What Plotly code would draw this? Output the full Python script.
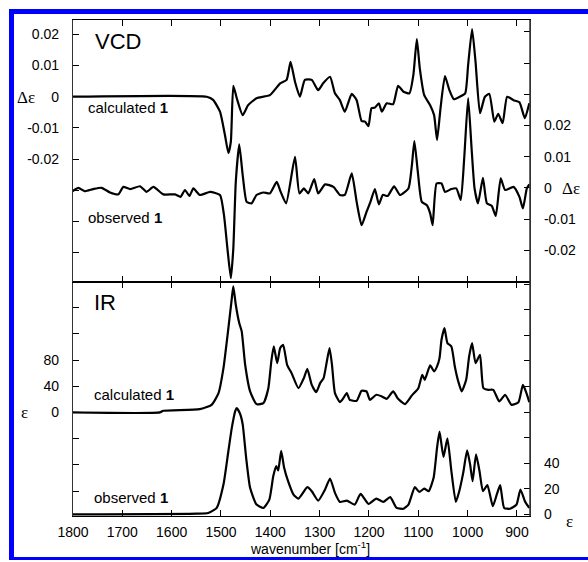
import plotly.graph_objects as go

# ---------------- data ----------------
vcd_calc_wn = [1803, 1529, 1516, 1502, 1492, 1485, 1480, 1475, 1468, 1456, 1445, 1428, 1401, 1380, 1367,
               1359, 1350, 1340, 1330, 1316, 1303, 1293, 1279, 1269, 1259, 1249, 1235, 1225, 1215, 1208,
               1201, 1195, 1188, 1180, 1174, 1164, 1151, 1141, 1130, 1118, 1110, 1103, 1097, 1088, 1076,
               1068, 1062, 1055, 1046, 1037, 1028, 1016, 1005, 999, 991, 984, 975, 965, 956, 946, 938,
               929, 920, 907, 895, 884, 875]
vcd_calc = [0, 0, -0.001, -0.0048, -0.0123, -0.0181, -0.0144, 0.0035, -0.0005, -0.0059, -0.0027, -0.0005,
            0.0005, 0.0043, 0.0054, 0.0112, 0.0048, 0.0, 0.0054, 0.0054, 0.0021, 0.0043, 0.0064, 0.0011,
            -0.0011, -0.0048, 0.0009, -0.0011, -0.0078, -0.008, -0.0094, -0.0037, -0.0035, -0.0021,
            -0.0048, -0.0021, -0.0024, 0.0035, 0.0016, 0.0011, 0.007, 0.0185, 0.0091, 0.0005, -0.0027,
            -0.0059, -0.0139, -0.0037, 0.0066, 0.0021, -0.0008, 0.0, 0.0011, 0.0102, 0.0217, 0.0112,
            -0.0053, 0.0, 0.0009, -0.008, -0.0055, -0.0085, 0.0, -0.0011, -0.0018, -0.0069, -0.0021]

vcd_obs_wn = [1803, 1789, 1776, 1759, 1742, 1725, 1708, 1698, 1684, 1664, 1651, 1637, 1617, 1593, 1582,
              1573, 1564, 1556, 1543, 1522, 1502, 1494, 1487, 1480, 1475, 1470, 1463, 1456, 1448, 1438,
              1428, 1414, 1401, 1387, 1379, 1368, 1350, 1341, 1332, 1323, 1311, 1303, 1289, 1272, 1259,
              1249, 1235, 1225, 1215, 1205, 1197, 1188, 1180, 1172, 1162, 1149, 1137, 1120, 1113, 1108,
              1101, 1093, 1083, 1076, 1071, 1063, 1053, 1046, 1033, 1023, 1014, 1007, 999, 992, 986, 979,
              969, 961, 951, 943, 933, 924, 907, 895, 888, 880, 875]
vcd_obs = [-0.0013, 0.0, -0.0011, -0.0004, 0.0, -0.0015, -0.0021, 0.0003, -0.0004, 0.0005, -0.0013,
           0.0003, -0.0021, -0.0021, -0.0029, -0.0007, -0.0026, -0.0002, -0.0023, -0.0013, -0.0023,
           -0.0087, -0.0194, -0.029, -0.0194, 0.0019, 0.0139, 0.0041, -0.0045, -0.005, -0.0023, -0.0015,
           -0.0018, 0.0019, -0.0013, -0.005, 0.0099, -0.0018, -0.0002, -0.0018, 0.0028, -0.0018, 0.0011,
           0.0003, -0.0023, -0.0023, 0.0046, -0.0045, -0.012, -0.0077, -0.0045, -0.0004, -0.0053,
           -0.0023, -0.0026, 0.0005, -0.0023, -0.0002, 0.0073, 0.015, 0.0051, -0.0045, -0.0055, -0.0082,
           -0.012, 0.0014, 0.0014, -0.0013, -0.0004, -0.0002, -0.0039, 0.0094, 0.0288, 0.0126, -0.0002,
           -0.005, 0.0032, -0.005, -0.0058, -0.009, 0.003, -0.0007, 0.0003, -0.0029, -0.0066, -0.0002,
           0.0011]

ir_calc_wn = [1803, 1624, 1617, 1543, 1519, 1505, 1495, 1485, 1478, 1475, 1470, 1463, 1458, 1451, 1441,
              1428, 1414, 1404, 1398, 1393, 1386, 1380, 1374, 1366, 1357, 1343, 1332, 1325, 1316, 1307,
              1299, 1292, 1286, 1280, 1275, 1269, 1259, 1252, 1245, 1239, 1225, 1215, 1205, 1198, 1185,
              1174, 1164, 1151, 1141, 1127, 1113, 1100, 1092, 1087, 1076, 1068, 1062, 1057, 1053, 1047,
              1041, 1033, 1026, 1019, 1012, 1003, 997, 991, 984, 975, 968, 958, 948, 936, 924, 911, 897,
              888, 882, 875]
ir_calc = [0, 0, 2.5, 5, 11.6, 29.5, 67.6, 128.7, 174.5, 192.4, 164.3, 136.3, 123.7, 72.7, 32, 12.7, 14.2,
           37, 77.9, 100.7, 75.3, 98.2, 103.2, 72.7, 60, 37, 52.4, 66.6, 42, 31, 44.7, 52.4, 75.3, 98.2,
           72.7, 29.5, 15.7, 21.8, 29.5, 19.2, 17.7, 33, 32, 19.2, 27, 24.4, 20.8, 32, 20.8, 12.7, 26, 37,
           57.4, 49.8, 71.8, 62.6, 70.2, 82.9, 110.8, 128.7, 105.8, 100.7, 70.2, 47.3, 32, 49.8, 85.5,
           105.8, 75.3, 87.9, 37, 34.5, 34.5, 16.8, 27, 11.6, 15.7, 42, 32, 15.7]

ir_obs_wn = [1803, 1549, 1526, 1509, 1495, 1485, 1478, 1471, 1468, 1461, 1456, 1449, 1441, 1428, 1414,
             1402, 1394, 1388, 1384, 1378, 1372, 1364, 1353, 1343, 1325, 1316, 1303, 1289, 1279, 1269,
             1259, 1245, 1229, 1217, 1201, 1185, 1171, 1157, 1144, 1130, 1120, 1107, 1098, 1088, 1079,
             1069, 1062, 1057, 1049, 1041, 1033, 1024, 1017, 1009, 1001, 995, 990, 983, 976, 969, 960,
             949, 941, 934, 926, 914, 901, 893, 884, 875]
ir_obs = [0, 0.6, 1.2, 5, 23.4, 49.6, 67.8, 80.9, 83, 78.3, 70.4, 44.3, 20.8, 7.7, 5.1, 11.6, 30, 37.8,
          34.4, 49.6, 36.5, 26, 15.5, 12.4, 21.3, 18.2, 10.8, 19.5, 28.1, 16.9, 9.8, 10.8, 7.7, 16.1, 8.2,
          12.4, 9.8, 13.5, 5.1, 4.5, 7.7, 21.3, 17.6, 20.2, 18.2, 28.6, 52.2, 64.7, 44.9, 59.5, 33.9, 9.8,
          18.2, 32.5, 50, 39.1, 26, 46.9, 33.9, 18.2, 22.9, 6.4, 15.5, 22.9, 5.1, 4.5, 7.7, 19.5, 10.4, 5.1]

x_ticks = [1800, 1700, 1600, 1500, 1400, 1300, 1200, 1100, 1000, 900]
vcd_left_ticks = [-0.05, -0.04, -0.03, -0.02, -0.01, 0, 0.01, 0.02]
vcd_left_text = ["", "", "", "-0.02", "-0.01", "0", "0.01", "0.02"]
vcd_right_ticks = [-0.02, -0.01, 0, 0.01, 0.02, 0.03, 0.04, 0.05]
vcd_right_text = ["-0.02", "-0.01", "0", "0.01", "0.02", "", "", ""]
ir_left_ticks = [-120, -80, -40, 0, 40, 80, 120, 160]
ir_left_text = ["", "", "", "0", "40", "80", "", ""]
ir_right_ticks = [0, 20, 40, 60, 80, 100, 120, 140, 160, 180]
ir_right_text = ["0", "20", "40", "", "", "", "", "", "", ""]

# ---------------- figure ----------------
FONT = "Liberation Sans, Arial, sans-serif"
SERIF = "Liberation Serif, Times New Roman, serif"
W, H = 588, 562
L, R, T, B = 73, 58, 20, 46
pw, ph = W - L - R, H - T - B
div_y = 282
split = (H - B - div_y) / ph


def px(x):
    return (x - L) / pw


def py(y):
    return (H - B - y) / ph


line = dict(color="black", width=2.2, shape="spline", smoothing=0.5)
fig = go.Figure()
fig.add_trace(go.Scatter(x=vcd_calc_wn, y=vcd_calc, mode="lines", line=line, xaxis="x2", yaxis="y"))
fig.add_trace(go.Scatter(x=vcd_obs_wn, y=vcd_obs, mode="lines", line=line, xaxis="x2", yaxis="y2"))
fig.add_trace(go.Scatter(x=ir_calc_wn, y=ir_calc, mode="lines", line=line, xaxis="x", yaxis="y3"))
fig.add_trace(go.Scatter(x=ir_obs_wn, y=ir_obs, mode="lines", line=line, xaxis="x", yaxis="y4"))

xr = [1800, 873.6]
tickfont = dict(family=FONT, size=14, color="black")
common_x = dict(range=xr, tickvals=x_ticks, ticks="inside", ticklen=6, tickcolor="black", tickwidth=1,
                showline=True, linecolor="black", linewidth=1.2, mirror="ticks", showgrid=False,
                zeroline=False, fixedrange=True)
common_y = dict(ticks="inside", ticklen=6, tickcolor="black", tickwidth=1, showline=True,
                linecolor="#333", linewidth=1.2, showgrid=False, zeroline=False, tickfont=tickfont)

fig.update_layout(
    width=W, height=H, margin=dict(l=L, r=R, t=T, b=B),
    paper_bgcolor="white", plot_bgcolor="white", showlegend=False,
    xaxis=dict(domain=[0, 1], anchor="y3", tickfont=tickfont, ticklabelstandoff=3, **common_x),
    xaxis2=dict(domain=[0, 1], anchor="y", matches="x", showticklabels=False, **common_x),
    yaxis=dict(domain=[split, 1], anchor="x2", range=[-0.0594, 0.0246], tickvals=vcd_left_ticks,
               ticktext=vcd_left_text, ticklabelstandoff=10, **common_y),
    yaxis2=dict(overlaying="y", side="right", anchor="x2", range=[-0.0594 + 0.0292, 0.0246 + 0.0292],
                tickvals=vcd_right_ticks, ticktext=vcd_right_text, ticklabelstandoff=10, **common_y),
    yaxis3=dict(domain=[0, split], anchor="x", range=[-158, 199], tickvals=ir_left_ticks,
                ticktext=ir_left_text, ticklabelstandoff=10, **common_y),
    yaxis4=dict(overlaying="y3", side="right", anchor="x", range=[-1.2, 181.6],
                tickvals=ir_right_ticks, ticktext=ir_right_text, ticklabelstandoff=10, **common_y),
)

ann = []


def add_text(text, x, y, size, xanchor="left", family=FONT):
    ann.append(dict(text=text, x=px(x), y=py(y), xref="paper", yref="paper", xanchor=xanchor,
                    yanchor="middle", showarrow=False, font=dict(family=family, size=size, color="black")))


add_text("VCD", 93, 42, 22)
add_text("IR", 92, 302, 22)
add_text("calculated <b>1</b>", 86, 108, 15)
add_text("observed <b>1</b>", 86, 217, 15)
add_text("calculated <b>1</b>", 92, 394, 15)
add_text("observed <b>1</b>", 92, 497, 15)
add_text("Δε", 26, 97, 17, "center", SERIF)
add_text("Δε", 571, 188, 17, "center", SERIF)
add_text("ε", 24, 412, 17, "center", SERIF)
add_text("ε", 569, 521, 17, "center", SERIF)
add_text("wavenumber [cm<sup>-1</sup>]", 310, 548, 14, "center")
fig.update_layout(annotations=ann)

blue = "#0000ff"
shapes = [
    dict(type="line", xref="paper", yref="paper", x0=1, x1=1, y0=0, y1=1,
         line=dict(color="#333", width=1.5), layer="above"),
    dict(type="rect", xref="paper", yref="paper", x0=px(9), x1=px(588), y0=py(9), y1=py(14),
         fillcolor=blue, line_width=0, layer="above"),
    dict(type="rect", xref="paper", yref="paper", x0=px(9), x1=px(14), y0=py(9), y1=py(560),
         fillcolor=blue, line_width=0, layer="above"),
    dict(type="rect", xref="paper", yref="paper", x0=px(9), x1=px(588), y0=py(557), y1=py(560),
         fillcolor=blue, line_width=0, layer="above"),
]
fig.update_layout(shapes=shapes)

fig.write_html("out.html")
